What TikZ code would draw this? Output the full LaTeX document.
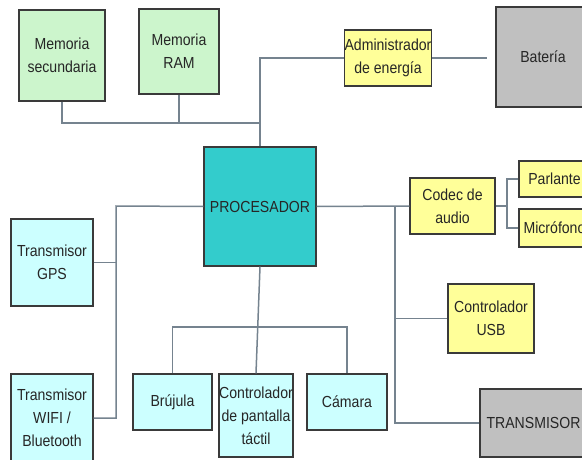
\documentclass[tikz,border=0pt]{standalone}
\usepackage{fontspec}
\setmainfont{Liberation Sans}[FakeStretch=0.88]
\definecolor{boxgreen}{HTML}{CCF5CC}
\definecolor{boxcyan}{HTML}{CCFFFF}
\definecolor{boxyellow}{HTML}{FFFF99}
\definecolor{boxgray}{HTML}{C0C0C0}
\definecolor{boxteal}{HTML}{33CCCC}
\definecolor{wire}{HTML}{75838F}
\definecolor{edge}{HTML}{3A3A3A}
\tikzset{
  blk/.style={draw=edge, line width=1.2pt, inner sep=0pt, align=center,
    font=\fontsize{16}{23}\selectfont, text=black!85},
  gbox/.style={blk, fill=boxgreen},
  cbox/.style={blk, fill=boxcyan},
  ybox/.style={blk, fill=boxyellow},
  dbox/.style={blk, fill=boxgray},
  tbox/.style={blk, fill=boxteal},
  wire/.style={draw=wire, line width=1.5pt}
}
\begin{document}
\begin{tikzpicture}[x=1pt,y=-1pt]
\useasboundingbox (0,0) rectangle (582,460);
\fill[white] (0,0) rectangle (582,460);
\clip (0,0) rectangle (582,460);
% connectors first (behind boxes)
\coordinate (topj) at (260,58);
\coordinate (busr) at (260,123);
\coordinate (batend) at (487,58);
\coordinate (lj) at (116,206);
\coordinate (bj) at (260,327);
\coordinate (rj) at (395,206);
\coordinate (aj) at (507,206);
% nodes
\node[gbox, minimum width=86pt, minimum height=91pt] (memsec) at (62,55.5) {Memoria\\secundaria};
\node[gbox, minimum width=80pt, minimum height=85pt] (memram) at (179,51.5) {Memoria\\RAM};
\node[ybox, minimum width=86pt, minimum height=56pt] (admin) at (388,58) {Administrador\\de energía};
\node[dbox, minimum width=94pt, minimum height=100pt] (bat) at (543,57) {Batería};
\node[tbox, minimum width=112pt, minimum height=119pt] (proc) at (260,206.5) {PROCESADOR};
\node[cbox, minimum width=82pt, minimum height=87pt] (gps) at (52,262.5) {Transmisor\\GPS};
\node[cbox, minimum width=82pt, minimum height=88pt] (wifi) at (52,418) {Transmisor\\WIFI /\\Bluetooth};
\node[cbox, minimum width=79pt, minimum height=56pt] (bruj) at (172.5,402) {Brújula};
\node[cbox, minimum width=74pt, minimum height=83pt] (pant) at (256,415.5) {Controlador\\de pantalla\\táctil};
\node[cbox, minimum width=80pt, minimum height=56pt] (cam) at (347,402) {Cámara};
\node[ybox, minimum width=85pt, minimum height=56pt] (codec) at (452.5,206) {Codec de\\audio};
\node[ybox, minimum width=71pt, minimum height=36pt] (parl) at (554.5,179) {Parlante};
\node[ybox, minimum width=71pt, minimum height=38pt] (micro) at (554.5,228) {Micrófono};
\node[ybox, minimum width=86pt, minimum height=69pt] (usb) at (491,318.5) {Controlador\\USB};
\node[dbox, minimum width=107pt, minimum height=68pt] (trans) at (533.5,423) {TRANSMISOR};
% connectors
\draw[wire] (memsec.south) |- (busr);
\draw[wire] (memram.south) -- (memram.south |- busr);
\draw[wire] (proc.north) -- (topj) -- (admin.west);
\draw[wire] (admin.east) -- (batend);
\draw[wire] (proc.west) -- (lj) |- (wifi.east);
\draw[wire] (gps.east) -- (gps.east -| lj);
\draw[wire] (proc.south) -- (pant.north);
\draw[wire] (bruj.north) |- (bj) -| (cam.north);
\draw[wire] (proc.east) -- (codec.west);
\draw[wire] (rj) |- (trans.west);
\draw[wire] (usb.west -| rj) -- (usb.west);
\draw[wire] (codec.east) -- (aj);
\draw[wire] (parl.west) -| (aj) |- (micro.west);
\end{tikzpicture}
\end{document}
